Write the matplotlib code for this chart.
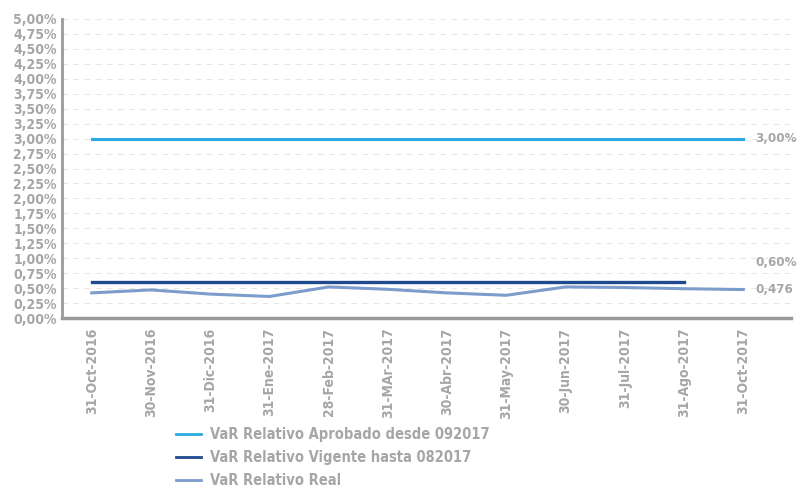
import matplotlib
matplotlib.use("Agg")
import matplotlib.pyplot as plt
import numpy as np

# data
fechas = ["31-Oct-2016", "30-Nov-2016", "31-Dic-2016", "31-Ene-2017", "28-Feb-2017",
          "31-MAr-2017", "30-Abr-2017", "31-May-2017", "30-Jun-2017", "31-Jul-2017",
          "31-Ago-2017", "31-Oct-2017"]
var_aprobado = [3.00] * 12
var_vigente = [0.60] * 11
var_real = [0.42, 0.47, 0.40, 0.36, 0.52, 0.48, 0.42, 0.38, 0.52, 0.51, 0.49, 0.476]
yticks = np.arange(0, 5.01, 0.25)

gris = "#a6a6a6"
plt.rcParams["font.family"] = ["DejaVu Sans"]
plt.rcParams["font.stretch"] = "condensed"
plt.rcParams["font.weight"] = "bold"

fig = plt.figure(figsize=(7.97, 4.87), dpi=100)
ax = fig.add_axes([0.078, 0.347, 0.914, 0.614])

x = np.arange(len(fechas))
l1, = ax.plot(x, var_aprobado, color="#29abe2", lw=2.2)
l2, = ax.plot(x[:len(var_vigente)], var_vigente, color="#1f4b8e", lw=2.4)
l3, = ax.plot(x, var_real, color="#7c9ccb", lw=2.2)

ax.set_xlim(-0.5, 11.8)
ax.set_ylim(0, 5.0)
ax.set_yticks(yticks)
ax.set_yticklabels([f"{v:.2f}%".replace(".", ",") for v in yticks])
ax.set_xticks(x)
ax.set_xticklabels(fechas, rotation=90)
ax.tick_params(axis="both", length=0, colors=gris, labelsize=10)
ax.tick_params(axis="x", pad=7)
ax.tick_params(axis="y", pad=4)

ax.grid(axis="y", color="#e6e6e6", ls=(0, (5, 5)), lw=0.8)
ax.set_axisbelow(True)
for s in ["top", "right"]:
    ax.spines[s].set_visible(False)
ax.spines["left"].set_color("#9a9a9a")
ax.spines["left"].set_linewidth(2)
ax.spines["bottom"].set_color("#9a9a9a")
ax.spines["bottom"].set_linewidth(2.5)

# etiquetas a la derecha
ax.text(11.2, var_aprobado[-1], "3,00%", color=gris, fontsize=9.5, va="center", ha="left")
ax.text(11.2, 0.93, "0,60%", color=gris, fontsize=9.5, va="center", ha="left")
ax.text(11.2, var_real[-1], "0,476", color=gris, fontsize=9.5, va="center", ha="left")

leg = fig.legend([l1, l2, l3],
                 ["VaR Relativo Aprobado desde 092017", "VaR Relativo Vigente hasta 082017", "VaR Relativo Real"],
                 loc="upper left", frameon=False, fontsize=10.5, labelcolor=gris, handlelength=1.7,
                 handletextpad=0.6, labelspacing=0.55, borderaxespad=0, borderpad=0)
leg.set_bbox_to_anchor((0.221, 1 - 427 / 487), transform=fig.transFigure)
for h in leg.legend_handles:
    h.set_linewidth(2)

fig.savefig("out.png", dpi=100)
